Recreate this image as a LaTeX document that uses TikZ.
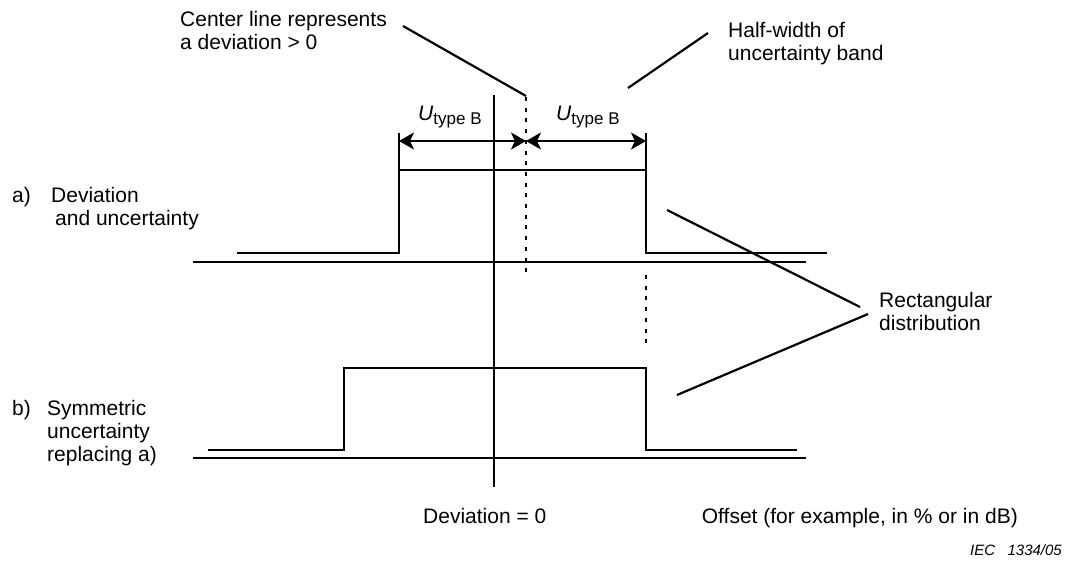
\documentclass[tikz,border=0pt]{standalone}
\usepackage{fontspec}
\setmainfont{Liberation Sans}
\usetikzlibrary{arrows.meta}
% several lines of text, aligned on the baseline of the first one
\newcommand\stack[1]{\begin{tabular}[t]{@{}l@{}}#1\end{tabular}}
\newcommand\utypeb{\textit{U}\raisebox{-4pt}{\fontsize{17}{17}\selectfont type B}}
\begin{document}
\begin{tikzpicture}[x=1pt,y=-1pt,
  line/.style={line width=2.2pt},
  axis/.style={line width=2.2pt},
  dots/.style={line width=2.4pt, dash pattern=on 4pt off 6.7pt},
  leader/.style={line width=2.2pt},
  lbl/.style={font=\fontsize{21}{23}\selectfont, inner sep=0pt, anchor=base west},
  dim/.style={line width=2.2pt, {Stealth[length=15pt,width=17pt,inset=4pt]}-{Stealth[length=15pt,width=17pt,inset=4pt]}},
  ]
\useasboundingbox (0,0) rectangle (1071,560);

% zero-deviation axis
\coordinate (axtop) at (494,95);
\coordinate (axbot) at (494,487);
\draw[axis] (axtop) -- (axbot);

% a) deviation and uncertainty
\coordinate (aL) at (399,133);
\coordinate (aR) at (646,133);
\coordinate (aM) at (526,141);
\draw[line] (aL) -- (399,253) -- (237,253);
\draw[line] (aR) -- (646,253) -- (827,253);
\draw[line] (399,170) -- (646,170);
\draw[line] (193,262) -- (806,262);
\draw[dim] (399,141) -- (aM);
\draw[dim] (aM) -- (646,141);

% center line and its downward continuation
\coordinate (ctop) at (526,97);
\draw[dots] (ctop) -- (526,277);
\draw[dots] (646,275) -- (646,343);

% b) symmetric uncertainty
\draw[line] (208,450) -- (344,450) -- (344,368) -- (646,368) -- (646,450) -- (797,450);
\draw[line] (193,458) -- (806,458);

% labels
\node[lbl] (uL) at (418,120) {\utypeb};
\node[lbl] (uR) at (556,120) {\utypeb};

\node[lbl] (center) at (180,26) {\stack{Center line represents\\a deviation > 0}};
\node[lbl] (half) at (728,37) {\stack{Half-width of\\uncertainty band}};
\node[lbl] (la) at (12,202) {a)};
\node[lbl] (dev) at (51,202) {\stack{Deviation\\\hspace*{4pt}and uncertainty}};
\node[lbl] (lb) at (12,415) {b)};
\node[lbl] (sym) at (47,415) {\stack{Symmetric\\uncertainty\\replacing a)}};
\node[lbl] (rect) at (879,307) {\stack{Rectangular\\distribution}};
\node[lbl] (zero) at (423,523) {Deviation = 0};
\node[lbl, anchor=base east] (offset) at (1018,523) {Offset (for example, in \% or in dB)};
\node[inner sep=0pt, anchor=base east, font=\fontsize{15}{17}\selectfont\itshape] (iec) at (1062,555) {IEC\ \ \ 1334/05};

% leader lines
\coordinate (c1) at (403,26);
\coordinate (c2) at (526,96);
\draw[leader] (c1) -- (c2);
\coordinate (h1) at (708,33);
\coordinate (h2) at (628,88);
\draw[leader] (h1) -- (h2);
\coordinate (r1) at (860,307);
\coordinate (r2) at (667,210);
\draw[leader] (r1) -- (r2);
\coordinate (r3) at (868,314);
\coordinate (r4) at (677,395);
\draw[leader] (r3) -- (r4);
\end{tikzpicture}
\end{document}
